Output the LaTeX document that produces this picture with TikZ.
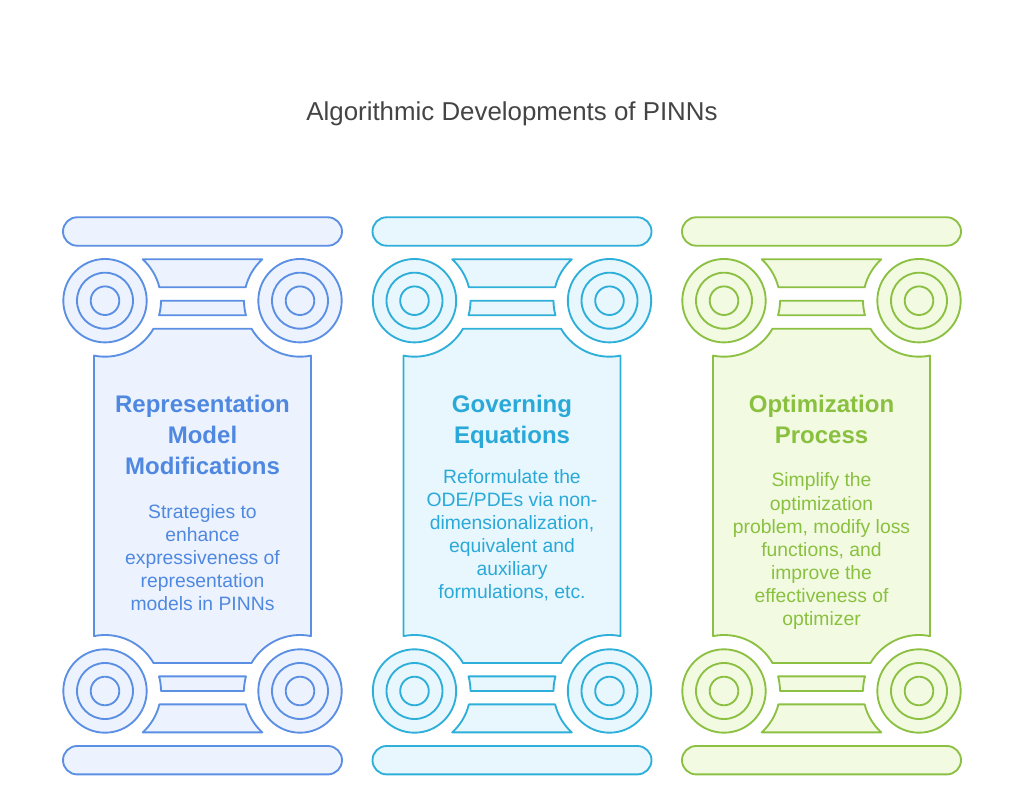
\documentclass[tikz,border=0pt]{standalone}
\usepackage{fontspec}
\setmainfont{Liberation Sans}
\usetikzlibrary{positioning}

\definecolor{line1}{HTML}{5B8FE4}
\definecolor{fill1}{HTML}{EDF3FE}
\definecolor{text1}{HTML}{4F88E0}
\definecolor{line2}{HTML}{2EAFD9}
\definecolor{fill2}{HTML}{E7F7FD}
\definecolor{text2}{HTML}{2AA9D9}
\definecolor{line3}{HTML}{8CC043}
\definecolor{fill3}{HTML}{F2FBE1}
\definecolor{text3}{HTML}{8AC040}
\definecolor{titlegray}{HTML}{444444}

\tikzset{
  pil/.style={draw=line#1, fill=fill#1, line width=1.4pt, line join=round},
  headtext/.style={font=\bfseries\fontsize{18}{23.25}\selectfont, align=center, inner sep=0pt},
  desctext/.style={font=\fontsize{14.5}{17.25}\selectfont, align=center, inner sep=0pt},
}

\begin{document}
\begin{tikzpicture}[x=0.75pt,y=0.75pt]
\useasboundingbox (0,0) rectangle (1024,807);

\node[font=\fontsize{19.4}{24}\selectfont, text=titlegray, anchor=base] (title) at (512,686) {Algorithmic Developments of PINNs};

\def\cols{1/202.5/22.5pt/{Representation\\Model\\Modifications}/{Strategies to\\enhance\\expressiveness of\\representation\\models in PINNs},
2/512/15.3pt/{Governing\\Equations}/{Reformulate the\\ODE/PDEs via non-\\dimensionalization,\\equivalent and\\auxiliary\\formulations, etc.},
3/821.5/21.8pt/{Optimization\\Process}/{Simplify the\\optimization\\problem, modify loss\\functions, and\\improve the\\effectiveness of\\optimizer}}
\foreach \i / \cx / \gap / \head / \desc in \cols {
  \begin{scope}[shift={(\cx,0)}]
  \coordinate (L) at (-97.5,506.3);
  \coordinate (R) at (97.5,506.3);
  \coordinate (L2) at (-97.5,116);
  \coordinate (R2) at (97.5,116);
  % bars
  \path[pil=\i, rounded corners=10.6pt] (-139.5,561.3) rectangle (139.5,589.7);
  \path[pil=\i, rounded corners=10.6pt] (-139.5,32.6) rectangle (139.5,61);
  % volutes
  \foreach \c in {L,R,L2,R2} {
    \path[pil=\i] (\c) circle[radius=41.7];
    \path[pil=\i] (\c) circle[radius=28];
    \path[pil=\i] (\c) circle[radius=14.3];
  }
  % top trapezoid and bar
  \path[pil=\i] ([shift={(47.7:56)}]L) -- ([shift={(132.3:56)}]R) arc[start angle=132.3, end angle=166.15, radius=56]
    -- ([shift={(13.85:56)}]L) arc[start angle=13.85, end angle=47.7, radius=56] -- cycle;
  \path[pil=\i] ([shift={(0:56)}]L) -- ([shift={(180:56)}]R) arc[start angle=180, end angle=195.1, radius=56]
    -- ([shift={(-15.1:56)}]L) arc[start angle=-15.1, end angle=0, radius=56] -- cycle;
  % shaft
  \path[pil=\i] ([shift={(-101.3:56)}]L) arc[start angle=-101.3, end angle=-30, radius=56]
    -- ([shift={(-150:56)}]R) arc[start angle=-150, end angle=-78.7, radius=56]
    -- ([shift={(78.7:56)}]R2) arc[start angle=78.7, end angle=150, radius=56]
    -- ([shift={(30:56)}]L2) arc[start angle=30, end angle=101.3, radius=56] -- cycle;
  % bottom bar and trapezoid
  \path[pil=\i] ([shift={(0:56)}]L2) -- ([shift={(180:56)}]R2) arc[start angle=180, end angle=164.9, radius=56]
    -- ([shift={(15.1:56)}]L2) arc[start angle=15.1, end angle=0, radius=56] -- cycle;
  \path[pil=\i] ([shift={(-13.85:56)}]L2) -- ([shift={(193.85:56)}]R2) arc[start angle=193.85, end angle=227.7, radius=56]
    -- ([shift={(-47.7:56)}]L2) arc[start angle=-47.7, end angle=-13.85, radius=56] -- cycle;
  \end{scope}
  \node[headtext, text=text\i, anchor=north] (head\i) at (\cx,412.5) {\head};
  \node[desctext, text=text\i, below=\gap of head\i] (desc\i) {\desc};
}

\end{tikzpicture}
\end{document}
